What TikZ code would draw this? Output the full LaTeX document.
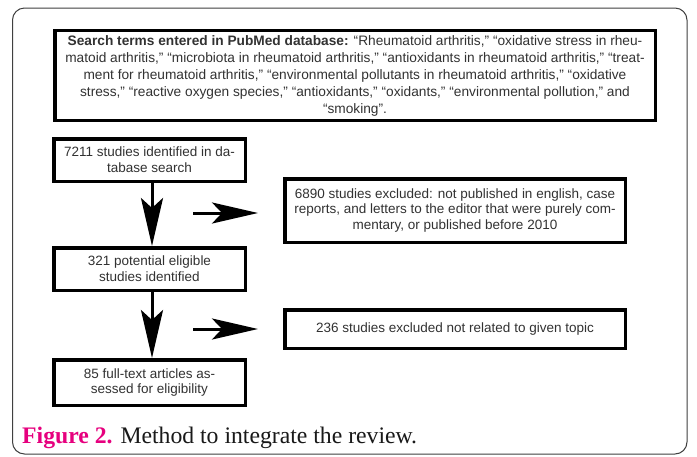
\documentclass[tikz,border=0pt]{standalone}
\usepackage{fontspec}
\setmainfont{Liberation Serif}
\newfontfamily\boxfont{Liberation Sans}
\usetikzlibrary{arrows.meta}
\definecolor{figmag}{RGB}{230,0,126}
\definecolor{boxtxt}{RGB}{50,50,50}
\tikzset{
  flowbox/.style={draw=black, line width=3.5pt, fill=white, inner sep=1pt,
    align=center, text=boxtxt, font=\boxfont\fontsize{13.5}{15.8}\selectfont},
  bigarrow/.style={line width=3pt, -{Stealth[length=48pt, width=22pt, inset=10pt]}},
  sidearrow/.style={line width=3pt, -{Stealth[length=46pt, width=21pt, inset=10pt]}}
}
\begin{document}
\begin{tikzpicture}[x=1pt, y=-1pt]
\useasboundingbox[fill=white] (0,0) rectangle (697,456);
\draw[rounded corners=12pt, line width=1pt, black!75] (12.5,8) rectangle (687,454);

\node[flowbox, minimum width=600.5pt, minimum height=90pt, font=\boxfont\fontsize{13.7}{17}\selectfont] (top) at (355,75.5)
 {\textbf{Search terms entered in PubMed database:} “Rheumatoid arthritis,” “oxidative stress in rheu-\\
 matoid arthritis,” “microbiota in rheumatoid arthritis,” “antioxidants in rheumatoid arthritis,” “treat-\\
 ment for rheumatoid arthritis,” “environmental pollutants in rheumatoid arthritis,” “oxidative\\
 stress,” “reactive oxygen species,” “antioxidants,” “oxidants,” “environmental pollution,” and\\
 “smoking”.};

\node[flowbox, minimum width=191.5pt, minimum height=42.5pt] (b1) at (149.5,160)
 {7211 studies identified in da-\\tabase search};
\node[flowbox, minimum width=191.5pt, minimum height=42.5pt] (b2) at (149.5,269)
 {321 potential eligible\\studies identified};
\node[flowbox, minimum width=191.5pt, minimum height=45.5pt] (b3) at (149.5,382.5)
 {85 full-text articles as-\\sessed for eligibility};
\node[flowbox, minimum width=340.5pt, minimum height=63.5pt] (e1) at (455,210.5)
 {6890 studies excluded: not published in english, case\\reports, and letters to the editor that were purely com-\\mentary, or published before 2010};
\node[flowbox, minimum width=340.5pt, minimum height=38.5pt] (e2) at (455,329)
 {236 studies excluded not related to given topic};

\draw[bigarrow] ([xshift=2.5pt]b1.south) -- ([xshift=2.5pt]b2.north);
\draw[bigarrow] ([xshift=2.5pt]b2.south) -- ([xshift=2.5pt]b3.north);

\coordinate (r1s) at (193,213);
\coordinate (r1e) at (258,213);
\coordinate (r2s) at (193,329);
\coordinate (r2e) at (258,329);
\draw[sidearrow] (r1s) -- (r1e);
\draw[sidearrow] (r2s) -- (r2e);

\node[anchor=base west, inner sep=0pt, font=\fontsize{23.7}{28}\selectfont, text=black!90] (cap) at (22,443)
 {\textcolor{figmag}{\textbf{Figure 2.}} Method to integrate the review.};
\end{tikzpicture}
\end{document}
